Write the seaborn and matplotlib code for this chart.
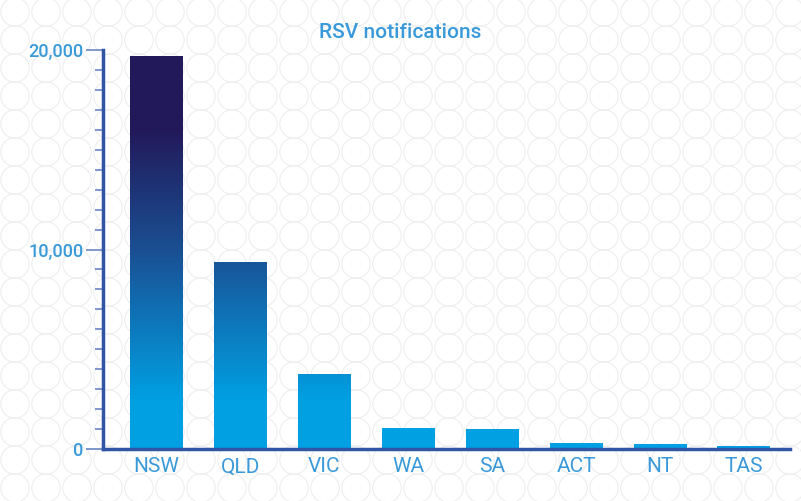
import numpy as np
import matplotlib
matplotlib.use("Agg")
import matplotlib.pyplot as plt
from matplotlib.colors import LinearSegmentedColormap
from matplotlib.ticker import MultipleLocator, FuncFormatter
import seaborn as sns

states = ["NSW", "QLD", "VIC", "WA", "SA", "ACT", "NT", "TAS"]
notifications = [19700, 9350, 3750, 1050, 1000, 300, 250, 150]

sns.set_style("white")
plt.rcParams["font.family"] = ["Roboto", "DejaVu Sans"]
blue = "#3a9ad9"
axis_col = "#2f55a4"

fig = plt.figure(figsize=(8.01, 5.01), dpi=100)

# faint circle pattern background
bg = fig.add_axes([0, 0, 1, 1])
bg.set_xlim(0, 801)
bg.set_ylim(501, 0)
bg.axis("off")
gx, gy = np.meshgrid(np.arange(15, 801, 31), np.arange(12, 501, 28))
bg.scatter(gx.ravel(), gy.ravel(), s=420, facecolors="none", edgecolors="#eeeeee", linewidths=0.8)

ax = fig.add_axes([103 / 801, (501 - 449) / 501, (790 - 103) / 801, (449 - 45) / 501])
ax.patch.set_alpha(0)
sns.barplot(x=states, y=notifications, ax=ax, width=0.63, color="#00a0e3", saturation=1)
ax.set_xlim(-0.64, 7.55)
ax.set_ylim(0, 20000 * (449 - 45) / (449 - 50))

cmap = LinearSegmentedColormap.from_list("rsv", [(0, "#00a0e3"), (0.12, "#00a0e3"), (0.5, "#1a4f92"), (0.8, "#22195a"), (1, "#22195a")])
grad = np.linspace(0, 1, 256).reshape(-1, 1)
for p in ax.patches:
    im = ax.imshow(grad, cmap=cmap, origin="lower", aspect="auto",
                   extent=[p.get_x(), p.get_x() + p.get_width(), 0, 20000], zorder=p.get_zorder())
    im.set_clip_path(p)
    p.set_alpha(0)
ax.set_xlim(-0.64, 7.55)
ax.set_ylim(0, 20000 * (449 - 45) / (449 - 50))

for s in ["top", "right"]:
    ax.spines[s].set_visible(False)
ax.spines["left"].set_bounds(0, 20000)
ax.spines["left"].set_color(axis_col)
ax.spines["bottom"].set_color(axis_col)
ax.spines["left"].set_linewidth(2.5)
ax.spines["bottom"].set_linewidth(2.5)

ax.yaxis.set_major_locator(MultipleLocator(10000))
ax.yaxis.set_minor_locator(MultipleLocator(1000))
ax.yaxis.set_major_formatter(FuncFormatter(lambda v, _: f"{int(v):,}"))
ax.tick_params(axis="y", which="major", length=12, width=1.2, color="#6c86c4",
               labelsize=13, labelcolor=blue, left=True, pad=2)
ax.tick_params(axis="y", which="minor", length=6, width=1.2, color="#6c86c4", left=True)
for lbl in ax.get_yticklabels():
    lbl.set_fontweight("medium")
ax.tick_params(axis="x", length=0, labelsize=15, labelcolor=blue, pad=6)

fig.text(400 / 801, 1 - 33 / 501, "RSV notifications", ha="center", va="center",
         color=blue, fontsize=15, fontweight="medium")

fig.savefig("out.png", dpi=100)
